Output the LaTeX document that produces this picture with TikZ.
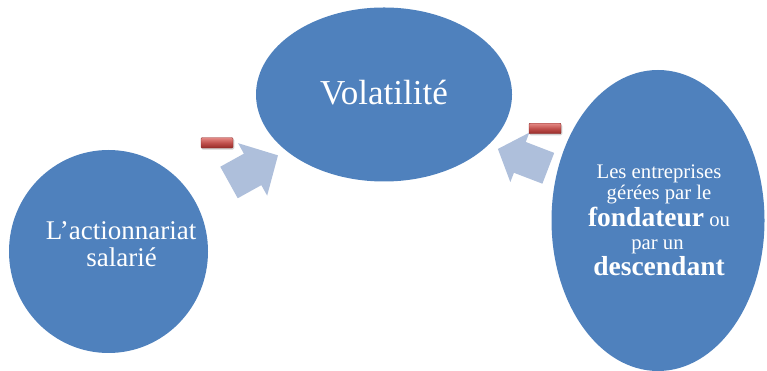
\documentclass[tikz,border=0pt]{standalone}
\usepackage{fontspec}
\setmainfont{Liberation Serif}
\usetikzlibrary{shapes.geometric}
\definecolor{ellblue}{HTML}{4F81BD}
\definecolor{arrblue}{HTML}{AEBFDB}
\definecolor{barTop}{HTML}{E58A86}
\definecolor{barMid}{HTML}{C0504D}
\definecolor{barBot}{HTML}{962B28}
\definecolor{barEdge}{HTML}{8A2826}
\tikzset{
  bubble/.style={ellipse, fill=ellblue, draw=none, inner sep=0pt},
  lbl/.style={text=white, inner sep=0pt, anchor=base},
  blockarrow/.style={fill=arrblue, draw=none},
  minusbar/.style={rectangle, rounded corners=1pt, draw=barEdge, line width=0.4pt,
    top color=barTop, bottom color=barBot, middle color=barMid,
    minimum width=32pt, minimum height=10.5pt, inner sep=0pt},
  barshadow/.style={rectangle, rounded corners=1.5pt, fill=black, opacity=0.18,
    minimum width=33pt, minimum height=11pt, inner sep=0pt}
}
\begin{document}
\begin{tikzpicture}[x=1pt,y=1pt]
\useasboundingbox (0,0) rectangle (767,371);
% ellipses
\node[bubble, minimum width=199pt, minimum height=203pt] (left) at (108.5,119.5) {};
\node[bubble, minimum width=256pt, minimum height=174pt] (top) at (384,276.5) {};
\node[bubble, minimum width=213pt, minimum height=301pt] (right) at (658,150.5) {};
% texts
\node[lbl, font=\fontsize{35}{40}\selectfont] (tvol) at (384,266) {Volatilité};
\node[lbl, font=\fontsize{27}{30}\selectfont] (tl1) at (121,131.7) {L’actionnariat};
\node[lbl, font=\fontsize{27}{30}\selectfont] (tl2) at (121.5,104.3) {salarié};
\node[lbl, font=\fontsize{20.7}{24}\selectfont] (tr1) at (659,192.7) {Les entreprises};
\node[lbl, font=\fontsize{20.7}{24}\selectfont, text depth=0pt] (tr2) at (659,171.7) {gérées par le};
\node[lbl, font=\fontsize{20.7}{24}\selectfont] (tr3) at (659,144.3) {{\fontsize{27.5}{30}\selectfont\bfseries fondateur} ou};
\node[lbl, font=\fontsize{20.7}{24}\selectfont, text depth=0pt] (tr4) at (657.5,121) {par un};
\node[lbl, font=\fontsize{27.5}{30}\selectfont\bfseries] (tr5) at (659,95.3) {descendant};
% block arrows
\begin{scope}[shift={(229,188.5)}, rotate=29]
  \fill[blockarrow] (0,-18) -- (27,-18) -- (27,-30) -- (56,0) -- (27,30) -- (27,18) -- (0,18) -- cycle;
\end{scope}
\begin{scope}[shift={(548.3,202.7)}, rotate=159]
  \fill[blockarrow] (0,-16.5) -- (30.5,-16.5) -- (30.5,-26.5) -- (54,0) -- (30.5,26.5) -- (30.5,16.5) -- (0,16.5) -- cycle;
\end{scope}
% minus bars
\node[barshadow] (lbs) at (217.8,226.8) {};
\node[minusbar] (lbar) at (217,228.2) {};
\node[barshadow] (rbs) at (545.8,241.1) {};
\node[minusbar] (rbar) at (545,242.5) {};
\end{tikzpicture}
\end{document}
